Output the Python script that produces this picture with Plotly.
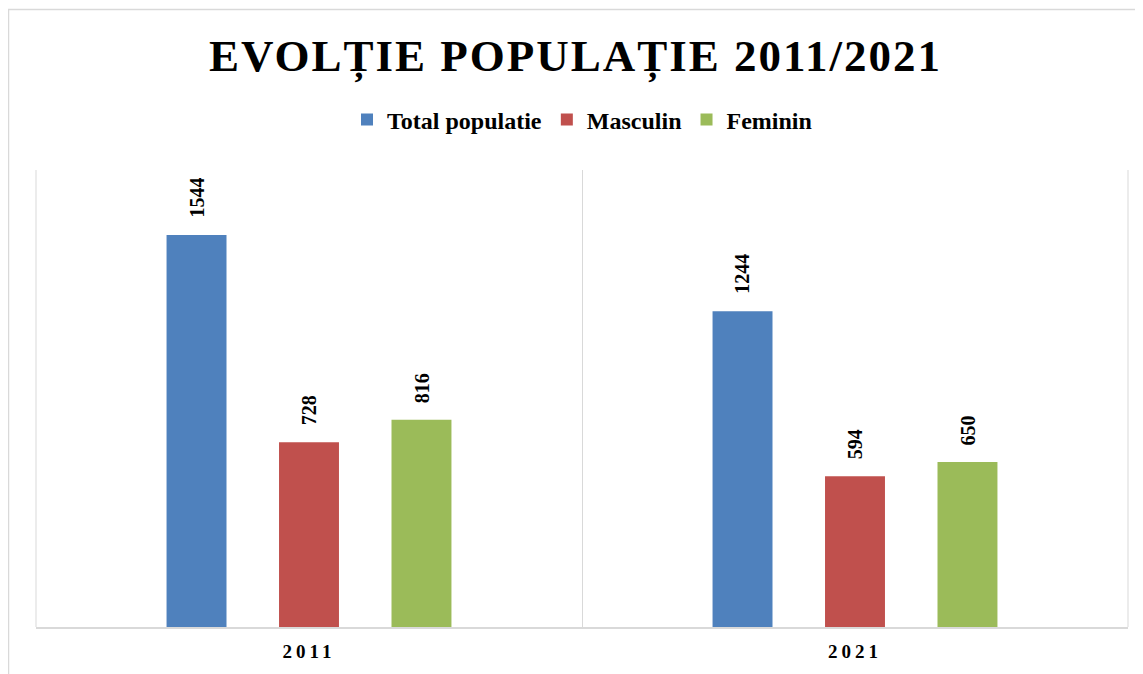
import plotly.graph_objects as go

years = ["2011", "2021"]
total = [1544, 1244]
masculin = [728, 594]
feminin = [816, 650]

series = [
    ("Total populatie", total, "#4F81BD"),
    ("Masculin", masculin, "#C0504D"),
    ("Feminin", feminin, "#9BBB59"),
]

FONT = "Liberation Serif, Times New Roman, serif"

# page is offset by the 8px body margin; figure sized to fit the window
W, H = 1135, 666
ML, MR, MT, MB = 28, 15, 162, 47
plot_w = W - ML - MR
plot_h = H - MT - MB
slot_px = plot_w / 2 * 0.206  # width of one bar slot inside a group

fig = go.Figure()
annotations = []
for i, (name, vals, color) in enumerate(series):
    fig.add_trace(go.Bar(
        name=name, x=years, y=vals, marker_color=color,
        marker_line_width=0,
    ))
    for k, v in enumerate(vals):
        annotations.append(dict(
            x=k, y=v, xref="x", yref="y", text=f"<b>{v}</b>",
            showarrow=False, textangle=-90, yanchor="bottom", xanchor="center",
            xshift=(i - 1) * slot_px, yshift=15,
            font=dict(family=FONT, size=20, color="black"),
        ))

fig.update_layout(
    width=W, height=H,
    paper_bgcolor="white", plot_bgcolor="white",
    margin=dict(l=ML, r=MR, t=MT, b=MB, autoexpand=False),
    barmode="group", bargap=0.382, bargroupgap=0.467,
    title=dict(text="<b>EVOLȚIE POPULAȚIE 2011/2021</b>", x=0.5, xanchor="center",
               xref="container", yref="container",
               y=1 - 47 / H, yanchor="middle",
               font=dict(family=FONT, size=45, color="black")),
    showlegend=True,
    legend=dict(orientation="h", x=0.5, xanchor="center",
                y=(plot_h + MT - 112) / plot_h, yanchor="middle",
                font=dict(family=FONT, size=24, color="black", weight="bold"),
                itemwidth=30, traceorder="normal"),
    xaxis=dict(type="category", range=[-0.5, 1.5], tickson="boundaries", showgrid=True,
               gridcolor="#d9d9d9", gridwidth=1, showline=True, linecolor="#d9d9d9",
               linewidth=2, ticks="", ticklabelstandoff=6, automargin=False,
               tickfont=dict(family=FONT, size=19, color="black", weight="bold"),
               fixedrange=True),
    yaxis=dict(range=[0, 1800], visible=False, showgrid=False, zeroline=False,
               fixedrange=True, automargin=False),
    annotations=annotations,
    shapes=[
        dict(type="rect", xref="paper", yref="paper",
             x0=(0.5 - ML) / plot_w, x1=1.05,
             y0=-0.3, y1=(plot_h + MT - 1.5) / plot_h,
             line=dict(color="#d9d9d9", width=1.5),
             fillcolor="rgba(0,0,0,0)", layer="below"),
        dict(type="line", xref="paper", yref="paper", x0=0, x1=0, y0=0, y1=1,
             line=dict(color="#d9d9d9", width=1)),
        dict(type="line", xref="paper", yref="paper", x0=1, x1=1, y0=0, y1=1,
             line=dict(color="#d9d9d9", width=1)),
    ],
)

post = """
var gd = document.getElementById('{plot_id}');
function ls(){
  gd.querySelectorAll('.gtitle').forEach(function(e){e.style.letterSpacing='2px';});
  gd.querySelectorAll('.xtick text').forEach(function(e){e.style.letterSpacing='4px';});
}
ls();
if (gd.on) { gd.on('plotly_afterplot', ls); }
"""

fig.write_html("out.html", post_script=post)
